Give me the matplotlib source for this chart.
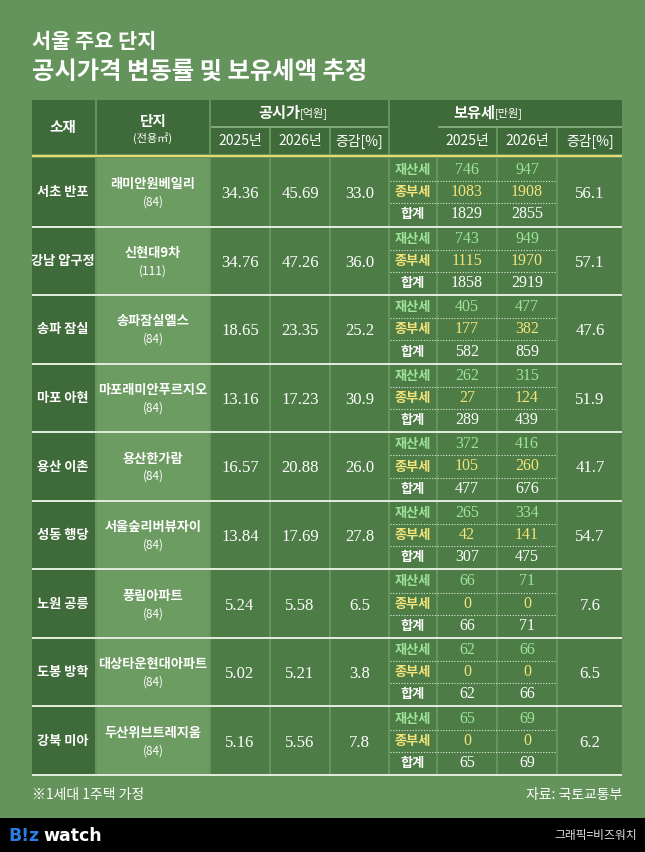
import matplotlib
matplotlib.use("Agg")
import matplotlib.pyplot as plt
from matplotlib.patches import Rectangle

KR = ['Noto Sans CJK KR', 'DejaVu Sans']
SERIF = ['Liberation Serif', 'DejaVu Serif']

regions = ["서초 반포", "강남 압구정", "송파 잠실", "마포 아현", "용산 이촌", "성동 행당", "노원 공릉", "도봉 방학", "강북 미아"]
complexes = ["래미안원베일리", "신현대9차", "송파잠실엘스", "마포래미안푸르지오", "용산한가람", "서울숲리버뷰자이", "풍림아파트", "대상타운현대아파트", "두산위브트레지움"]
areas = ["(84)", "(111)", "(84)", "(84)", "(84)", "(84)", "(84)", "(84)", "(84)"]
price_2025 = ["34.36", "34.76", "18.65", "13.16", "16.57", "13.84", "5.24", "5.02", "5.16"]
price_2026 = ["45.69", "47.26", "23.35", "17.23", "20.88", "17.69", "5.58", "5.21", "5.56"]
price_chg = ["33.0", "36.0", "25.2", "30.9", "26.0", "27.8", "6.5", "3.8", "7.8"]
prop_2025 = [746, 743, 405, 262, 372, 265, 66, 62, 65]
prop_2026 = [947, 949, 477, 315, 416, 334, 71, 66, 69]
comp_2025 = [1083, 1115, 177, 27, 105, 42, 0, 0, 0]
comp_2026 = [1908, 1970, 382, 124, 260, 141, 0, 0, 0]
tot_2025 = [1829, 1858, 582, 289, 477, 307, 66, 62, 65]
tot_2026 = [2855, 2919, 859, 439, 676, 475, 71, 66, 69]
tax_chg = ["56.1", "57.1", "47.6", "51.9", "41.7", "54.7", "7.6", "6.5", "6.2"]

BG = "#64935b"
DARK = "#3f6a39"
MID = "#4d7c46"
LIGHT = "#6c9c61"
GREEN_T = "#9ee39a"
YEL_T = "#f3e47c"

fig = plt.figure(figsize=(6.45, 8.52), dpi=100)
fig.patch.set_facecolor(BG)
ax = fig.add_axes([0, 0, 1, 1])
ax.set_xlim(0, 645); ax.set_ylim(852, 0); ax.axis('off')

def rect(x0, y0, x1, y1, c, z=1):
    ax.add_patch(Rectangle((x0, y0), x1 - x0, y1 - y0, facecolor=c, edgecolor='none', zorder=z))

def t(x, y, s, size=10, color='white', fam=KR, weight='normal', ha='center'):
    ax.text(x, y, s, fontsize=size, color=color, family=fam, weight=weight, ha=ha, va='center', zorder=5)

# title
t(32, 41, "서울 주요 단지", 15, weight='bold', ha='left')
t(32, 72, "공시가격 변동률 및 보유세액 추정", 17.5, weight='bold', ha='left')

cols = [(32, 95), (97, 209), (211, 269), (271, 329), (331, 388), (390, 436), (438, 496), (498, 556), (558, 622)]
top, h1, h2, dtop = 100, 127, 154, 158
row_h = (775 - dtop) / 9

rect(32, top, 622, h2, BG, 0)
for i, (a, b) in enumerate(cols):
    rect(a, top, b, h2, DARK)
rect(211, h1 - 1, 388, h1 + 1, "#7fa876", 2)
rect(438, h1 - 1, 622, h1 + 1, "#7fa876", 2)
for x in (269, 329, 436, 496, 556):
    rect(x, top, x + 2, h1 - 1, DARK, 1.5)
rect(436, h1 - 1, 438, h2, DARK, 1.5)
t(63, 127, "소재", 10.5, weight='bold')
t(153, 121, "단지", 10.5, weight='bold')
t(153, 138, "(전용㎡)", 8)
t(300, 113, "공시가", 11, weight='bold', ha='right')
t(300, 113, "[억원]", 8, ha='left')
t(495, 113, "보유세", 11, weight='bold', ha='right')
t(495, 113, "[만원]", 8, ha='left')
for (a, b), s in zip([cols[2], cols[3], cols[4], cols[6], cols[7], cols[8]], ["2025년", "2026년", "증감[%]", "2025년", "2026년", "증감[%]"]):
    t((a + b) / 2, 141, s, 10)
rect(32, 154.5, 622, 157, "#e8d870", 3)

for r in range(9):
    y0 = dtop + r * row_h
    y1 = y0 + row_h
    yc = (y0 + y1) / 2
    for i, (a, b) in enumerate(cols):
        c = DARK if i == 0 else LIGHT if i == 1 else MID
        rect(a, y0, b, y1, c)
    rect(32, y1 - 1, 622, y1 + 1, "#dfeadb", 3)
    t(63, yc, regions[r], 9.5, weight='bold')
    t(153, yc - 8, complexes[r], 9.5, weight='bold')
    t(153, yc + 10, areas[r], 8.5)
    for (a, b), v in zip(cols[2:5], [price_2025[r], price_2026[r], price_chg[r]]):
        t((a + b) / 2, yc + 2, v, 12, fam=SERIF)
    t((cols[8][0] + cols[8][1]) / 2, yc + 2, tax_chg[r], 12, fam=SERIF)
    sub = (row_h - 2) / 3
    labels = [("재산세", GREEN_T, prop_2025[r], prop_2026[r]),
              ("종부세", YEL_T, comp_2025[r], comp_2026[r]),
              ("합계", "white", tot_2025[r], tot_2026[r])]
    for k, (lab, col, v1, v2) in enumerate(labels):
        sy = y0 + sub * (k + 0.5) + 1
        t(413, sy, lab, 9.5, color=col, weight='bold')
        t(467, sy, str(v1), 11.5, color=col, fam=SERIF)
        t(527, sy, str(v2), 11.5, color=col, fam=SERIF)
        if k < 2:
            ly = y0 + sub * (k + 1) + 1
            ax.plot([390, 556], [ly, ly], color="#dfeadb", lw=0.8, ls=(0, (1, 1.5)), zorder=4)

t(32, 795, "※1세대 1주택 가정", 10, ha='left')
t(622, 795, "자료: 국토교통부", 10, ha='right')

rect(0, 818, 645, 852, "black", 2)
ax.text(8, 836, "B!z", fontsize=12.5, color="#2a7de1", weight='bold', family=['DejaVu Sans'], va='center', zorder=5)
ax.text(43, 836, "watch", fontsize=12.5, color="white", weight='bold', family=['DejaVu Sans'], va='center', zorder=5)
t(637, 836, "그래픽=비즈워치", 8.5, color="#dddddd", ha='right')

fig.savefig("out.png", dpi=100, facecolor=BG)
